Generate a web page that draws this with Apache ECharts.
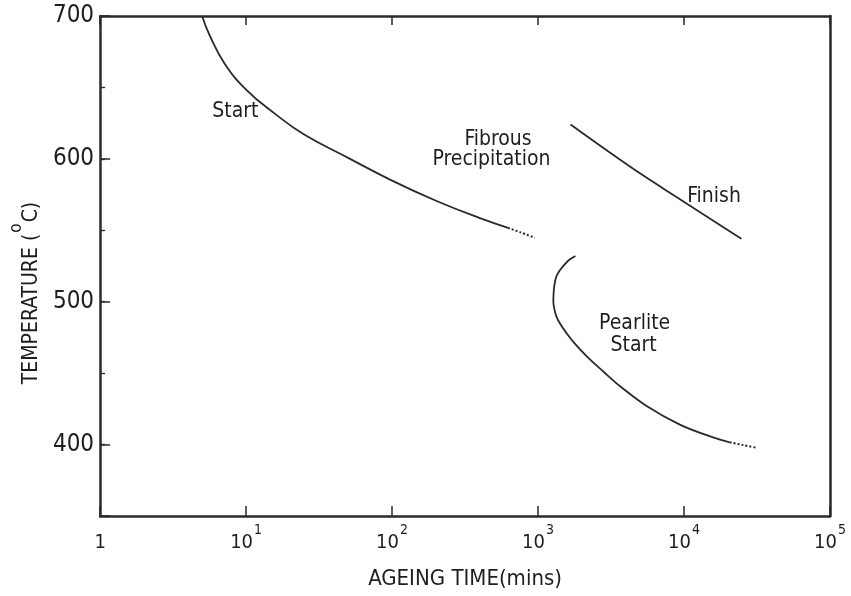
<!DOCTYPE html>
<html>
<head>
<meta charset="utf-8">
<script src="https://cdn.jsdelivr.net/npm/echarts@6/dist/echarts.min.js"></script>
<style>
  html, body { margin: 0; padding: 0; background: #ffffff; }
  #chart { width: 851px; height: 596px; }
</style>
</head>
<body>
<div id="chart"></div>
<script>
// ---- data (ageing time in minutes, temperature in °C) ----
const startTime = [5.0, 5.6, 7.1, 10, 15.8, 25, 50, 100, 200, 400, 623];
const startTemp = [700, 687, 667, 648.5, 631.5, 617, 600.7, 584.8, 570.7, 558.5, 551.7];
const startDotTime = [623, 760, 948];
const startDotTemp = [551.7, 548.5, 544.8];

const finishTime = [1670, 3050, 5140, 8660, 14650, 24700];
const finishTemp = [624, 605, 589, 574, 559, 544];

const pearliteTime = [1804, 1645, 1517, 1403, 1328, 1291, 1277, 1273, 1288, 1337, 1428, 1567, 1756, 2166, 2810, 3650, 5540, 9360, 15800, 20560];
const pearliteTemp = [532, 529.5, 526, 521.6, 517, 510.8, 505, 500.3, 495.7, 489.6, 484, 478, 471.5, 461.5, 451, 440.8, 427, 414, 405, 401.6];
const pearliteDotTime = [20560, 25500, 31300];
const pearliteDotTemp = [401.6, 399.6, 397.8];

const labelTexts = ['Start', 'Fibrous', 'Precipitation', 'Finish', 'Pearlite', 'Start'];
const labelTime = [8.45, 532, 480, 16070, 4590, 4520];
const labelTemp = [633.4, 613.6, 599.7, 573.7, 484.4, 469.4];

const yTickLabels = [400, 500, 600, 700];

// ---- helpers ----
const zip = (xs, ys) => xs.map((x, i) => [x, ys[i]]);
const INK = '#2a2a2a';
const TXT = '#1e1e1e';
const FONT = "'DejaVu Sans Condensed', 'DejaVu Sans', sans-serif";

const chart = echarts.init(document.getElementById('chart'));

const lineSeries = (xs, ys, dotted, smooth) => ({
  type: 'line',
  xAxisIndex: 0, yAxisIndex: 0,
  data: zip(xs, ys),
  smooth: smooth,
  showSymbol: false,
  silent: true,
  lineStyle: { color: INK, width: dotted ? 2 : 1.8, type: dotted ? [2, 2] : 'solid' }
});

chart.setOption({
  animation: false,
  backgroundColor: '#ffffff',
  grid: { left: 99, right: 21, top: 16, bottom: 80, show: false },
  xAxis: [
    {
      type: 'log', logBase: 10, min: 1, max: 100000, position: 'bottom',
      axisLine: { show: true, lineStyle: { color: INK, width: 2.5 } },
      axisTick: { show: true, inside: true, length: 10, lineStyle: { color: INK, width: 1.5 } },
      splitLine: { show: false },
      axisLabel: {
        margin: 7,
        color: TXT,
        fontFamily: FONT,
        fontSize: 20,
        formatter: function (v) {
          const e = Math.round(Math.log10(v));
          return e === 0 ? '{b|1}' : '{b|10}{sup|' + e + '}';
        },
        rich: {
          b: { fontSize: 20, lineHeight: 30, verticalAlign: 'bottom', color: TXT, fontFamily: FONT },
          sup: { fontSize: 14, lineHeight: 10, verticalAlign: 'top', padding: [0, 0, 0, 1], color: TXT, fontFamily: FONT }
        }
      },
      name: 'AGEING TIME(mins)',
      nameLocation: 'middle',
      nameGap: 52,
      nameTextStyle: { color: TXT, fontFamily: FONT, fontSize: 22 }
    },
    {
      type: 'log', logBase: 10, min: 1, max: 100000, position: 'top',
      axisLine: { show: true, lineStyle: { color: INK, width: 2.5 } },
      axisTick: { show: true, inside: true, length: 9, lineStyle: { color: INK, width: 1.5 } },
      axisLabel: { show: false },
      splitLine: { show: false }
    }
  ],
  yAxis: [
    {
      type: 'value', min: 350, max: 700, splitNumber: 4, position: 'left',
      axisLine: { show: true, lineStyle: { color: INK, width: 2.5 } },
      axisTick: { show: true, inside: true, length: 10, lineStyle: { color: INK, width: 1.5 } },
      splitLine: { show: false },
      axisLabel: {
        margin: 6,
        color: TXT,
        fontFamily: "'Liberation Sans Narrow', 'DejaVu Sans Condensed', sans-serif",
        fontSize: 24,
        formatter: function (v) { return yTickLabels.indexOf(v) >= 0 ? String(v) : ''; }
      },
      name: '{n|TEMPERATURE (}{sup|o}{n|C)}',
      nameLocation: 'middle',
      nameGap: 56,
      nameRotate: 90,
      nameTextStyle: {
        color: TXT, fontFamily: FONT, fontSize: 21,
        padding: [0, 54, 0, 0],
        rich: {
          n: { fontSize: 21, lineHeight: 34, verticalAlign: 'bottom', color: TXT, fontFamily: FONT },
          sup: { fontSize: 17, lineHeight: 12, verticalAlign: 'top', padding: [0, 1, 0, 1], color: TXT, fontFamily: FONT }
        }
      }
    },
    {
      type: 'value', min: 350, max: 700, interval: 50, position: 'left',
      axisLine: { show: false },
      axisTick: { show: true, inside: true, length: 5, lineStyle: { color: INK, width: 1.3 } },
      axisLabel: { show: false },
      splitLine: { show: false }
    },
    {
      type: 'value', min: 350, max: 700, position: 'right',
      axisLine: { show: true, lineStyle: { color: INK, width: 2.5 } },
      axisTick: { show: false },
      axisLabel: { show: false },
      splitLine: { show: false }
    }
  ],
  series: [
    lineSeries(startTime, startTemp, false, 0.45),
    lineSeries(startDotTime, startDotTemp, true, 0.3),
    lineSeries(finishTime, finishTemp, false, 0.3),
    lineSeries(pearliteTime, pearliteTemp, false, 0.35),
    lineSeries(pearliteDotTime, pearliteDotTemp, true, 0.3),
    {
      type: 'scatter',
      xAxisIndex: 0, yAxisIndex: 0,
      symbolSize: 0,
      silent: true,
      itemStyle: { opacity: 1, color: 'rgba(0,0,0,0)' },
      data: labelTexts.map((t, i) => ({ name: t, value: [labelTime[i], labelTemp[i]] })),
      label: {
        show: true, position: 'inside',
        formatter: p => p.name,
        color: TXT, opacity: 1, fontFamily: FONT, fontSize: 21
      }
    }
  ]
});
</script>
</body>
</html>
